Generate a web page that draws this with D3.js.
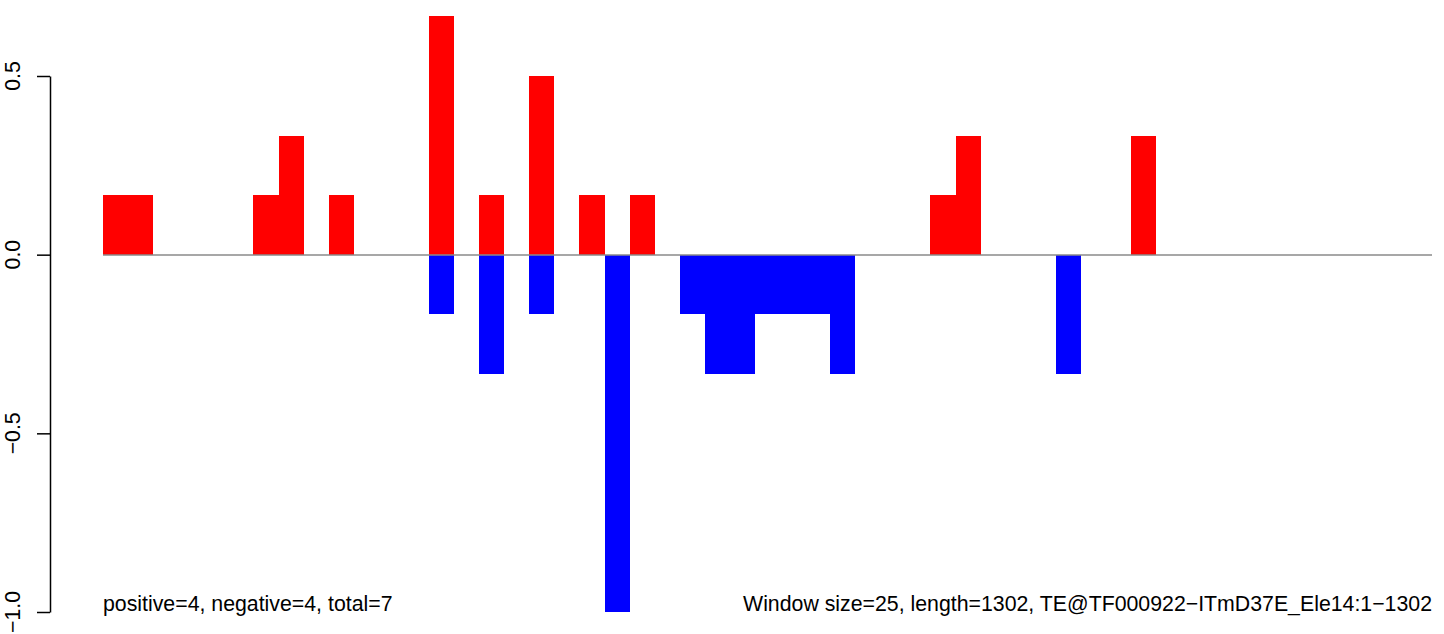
<!DOCTYPE html>
<html>
<head>
<meta charset="utf-8">
<script src="https://cdn.jsdelivr.net/npm/d3@7"></script>
<style>
  html, body { margin: 0; padding: 0; background: #ffffff; }
  svg { display: block; }
  text { font-family: "Liberation Sans", Arial, Helvetica, sans-serif; }
</style>
</head>
<body>
<svg id="chart" width="1444" height="634"></svg>
<script>
// Window index (window size 25 bp over a 1302 bp element, 53 windows)
const windowIndex = [
  0, 1, 2, 3, 4, 5, 6, 7, 8, 9,
  10, 11, 12, 13, 14, 15, 16, 17, 18, 19,
  20, 21, 22, 23, 24, 25, 26, 27, 28, 29,
  30, 31, 32, 33, 34, 35, 36, 37, 38, 39,
  40, 41, 42, 43, 44, 45, 46, 47, 48, 49,
  50, 51, 52
];
// Positive strand scores per window (red)
const positiveValues = [
  0.1667, 0.1667, 0, 0, 0, 0, 0.1667, 0.3333, 0, 0.1667,
  0, 0, 0, 0.6667, 0, 0.1667, 0, 0.5, 0, 0.1667,
  0, 0.1667, 0, 0, 0, 0, 0, 0, 0, 0,
  0, 0, 0, 0.1667, 0.3333, 0, 0, 0, 0, 0,
  0, 0.3333, 0, 0, 0, 0, 0, 0, 0, 0,
  0, 0, 0
];
// Negative strand scores per window (blue)
const negativeValues = [
  0, 0, 0, 0, 0, 0, 0, 0, 0, 0,
  0, 0, 0, -0.1667, 0, -0.3333, 0, -0.1667, 0, 0,
  -1.0, 0, 0, -0.1667, -0.3333, -0.3333, -0.1667, -0.1667, -0.1667, -0.3333,
  0, 0, 0, 0, 0, 0, 0, 0, -0.3333, 0,
  0, 0, 0, 0, 0, 0, 0, 0, 0, 0,
  0, 0, 0
];
const yTickValues = [-1.0, -0.5, 0.0, 0.5];
const yTickLabels = ["\u22121.0", "\u22120.5", "0.0", "0.5"];
const leftNote = "positive=4, negative=4, total=7";
const rightNote = "Window size=25, length=1302, TE@TF000922\u2212ITmD37E_Ele14:1\u22121302";

const svg = d3.select("#chart");
const nWindows = windowIndex.length;

const x = d3.scaleLinear().domain([0, nWindows]).range([103, 1432]);
const y = d3.scaleLinear().domain([-1, 0.5]).range([612, 76]);

const posData = windowIndex.map((w, i) => ({w, v: positiveValues[i]})).filter(d => d.v !== 0);
const negData = windowIndex.map((w, i) => ({w, v: negativeValues[i]})).filter(d => d.v !== 0);

const rx = w => Math.round(x(w));

svg.append("g").attr("shape-rendering", "crispEdges")
  .selectAll("rect").data(posData).join("rect")
  .attr("x", d => rx(d.w))
  .attr("width", d => rx(d.w + 1) - rx(d.w))
  .attr("y", d => Math.round(y(d.v)))
  .attr("height", d => Math.round(y(0)) - Math.round(y(d.v)))
  .attr("fill", "#ff0000");

svg.append("g").attr("shape-rendering", "crispEdges")
  .selectAll("rect").data(negData).join("rect")
  .attr("x", d => rx(d.w))
  .attr("width", d => rx(d.w + 1) - rx(d.w))
  .attr("y", Math.round(y(0)))
  .attr("height", d => Math.round(y(d.v)) - Math.round(y(0)))
  .attr("fill", "#0000ff");

// zero baseline
svg.append("line")
  .attr("x1", x(0)).attr("x2", x(nWindows))
  .attr("y1", Math.round(y(0))).attr("y2", Math.round(y(0)))
  .attr("stroke", "#8a8a8a").attr("stroke-width", 1.4);

// y axis
const axis = d3.axisLeft(y).tickValues(yTickValues).tickSize(13).tickSizeOuter(0).tickFormat("");
const gAxis = svg.append("g").attr("transform", "translate(50,0)").call(axis);
gAxis.select(".domain").attr("stroke", "#000").attr("stroke-width", 1.5);
gAxis.selectAll(".tick line").attr("stroke", "#000").attr("stroke-width", 1.5);

svg.append("g").selectAll("text").data(yTickValues).join("text")
  .attr("transform", d => `translate(20,${y(d)}) rotate(-90)`)
  .attr("text-anchor", "middle")
  .attr("font-size", "21.3px")
  .attr("fill", "#000")
  .text((d, i) => yTickLabels[i]);

svg.append("text")
  .attr("x", x(0)).attr("y", 611)
  .attr("font-size", "21.3px").attr("fill", "#000")
  .text(leftNote);

svg.append("text")
  .attr("x", x(nWindows)).attr("y", 611)
  .attr("text-anchor", "end")
  .attr("font-size", "21.3px").attr("fill", "#000")
  .text(rightNote);
</script>
</body>
</html>
